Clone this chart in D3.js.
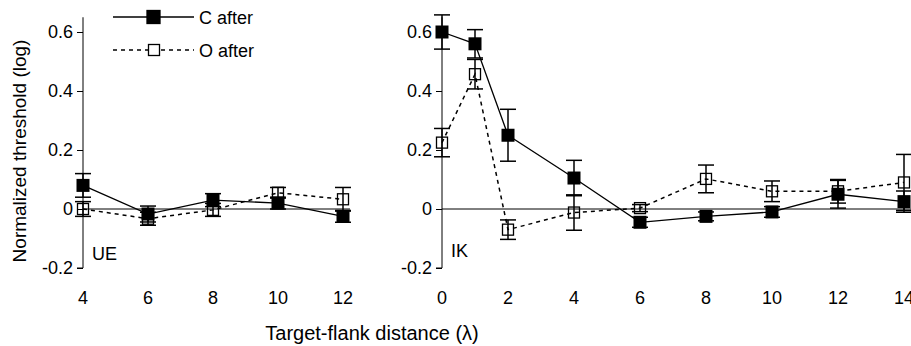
<!DOCTYPE html>
<html>
<head>
<meta charset="utf-8">
<script src="https://cdn.jsdelivr.net/npm/d3@7"></script>
<style>
    body { margin: 0; background: #fff; }
    text { font-family: "Liberation Sans", Arial, sans-serif; }
</style>
</head>
<body>
<script>
// Data (threshold in log units, error = half bar)
var ueX = [4, 6, 8, 10, 12];
var ueC = [0.08, -0.017, 0.03, 0.02, -0.025];
var ueCErr = [0.04, 0.027, 0.022, 0.02, 0.02];
var ueO = [0, -0.033, -0.003, 0.055, 0.033];
var ueOErr = [0.025, 0.022, 0.022, 0.018, 0.04];

var ikX = [0, 1, 2, 4, 6, 8, 10, 12, 14];
var ikC = [0.6, 0.56, 0.25, 0.105, -0.045, -0.025, -0.01, 0.05, 0.025];
var ikCErr = [0.058, 0.048, 0.088, 0.06, 0.017, 0.015, 0.018, 0.047, 0.036];
var ikO = [0.225, 0.457, -0.07, -0.012, 0.003, 0.102, 0.06, 0.06, 0.09];
var ikOErr = [0.048, 0.05, 0.033, 0.06, 0.012, 0.047, 0.035, 0.04, 0.095];

var yTicks = [-0.2, 0, 0.2, 0.4, 0.6];
var yTickLabels = ["-0.2", "0", "0.2", "0.4", "0.6"];
var ueTicks = [4, 6, 8, 10, 12];
var ikTicks = [0, 2, 4, 6, 8, 10, 12, 14];

var W = 911, H = 346;
var svg = d3.select("body").append("svg")
    .attr("width", W)
    .attr("height", H);

var yScale = d3.scaleLinear().domain([-0.2, 0.6]).range([268, 32]);

function panel(xs, cs, cErr, os, oErr, ticks, xScale, x0, zeroEnd, label) {
    var g = svg.append("g");

    // zero reference line
    g.append("line")
        .attr("x1", x0).attr("x2", zeroEnd)
        .attr("y1", yScale(0)).attr("y2", yScale(0))
        .attr("stroke", "#000").attr("stroke-width", 1);

    // y axis
    var yAxis = d3.axisLeft(yScale).tickValues(yTicks).tickSize(6)
        .tickFormat(function (d, i) { return yTickLabels[i]; });
    var ya = g.append("g")
        .attr("transform", "translate(" + x0 + ",0)")
        .call(yAxis);
    ya.select(".domain")
        .attr("d", "M0," + yScale(0.65) + "V" + yScale(-0.2) + "H-6");
    ya.selectAll("text")
        .attr("font-size", "18px")
        .attr("x", -10)
        .attr("fill", "#000")
        .style("font-family", "Liberation Sans, Arial, sans-serif");

    // x tick labels only
    g.selectAll(".xt")
        .data(ticks)
        .enter()
        .append("text")
        .attr("x", function (d) { return xScale(d); })
        .attr("y", 304)
        .attr("text-anchor", "middle")
        .attr("font-size", "18px")
        .text(function (d) { return d; });

    // lines
    var line = d3.line()
        .x(function (d) { return xScale(d[0]); })
        .y(function (d) { return yScale(d[1]); });
    g.append("path")
        .datum(xs.map(function (x, i) { return [x, os[i]]; }))
        .attr("d", line)
        .attr("fill", "none")
        .attr("stroke", "#000")
        .attr("stroke-width", 1.5)
        .attr("stroke-dasharray", "4,4");
    g.append("path")
        .datum(xs.map(function (x, i) { return [x, cs[i]]; }))
        .attr("d", line)
        .attr("fill", "none")
        .attr("stroke", "#000")
        .attr("stroke-width", 1.3);

    // error bars
    function errBars(vals, errs) {
        var eb = g.append("g");
        xs.forEach(function (x, i) {
            var cx = xScale(x);
            var top = yScale(vals[i] + errs[i]);
            var bot = yScale(vals[i] - errs[i]);
            eb.append("line").attr("x1", cx).attr("x2", cx)
                .attr("y1", top).attr("y2", bot)
                .attr("stroke", "#000").attr("stroke-width", 1.5);
            [top, bot].forEach(function (yy) {
                eb.append("line").attr("x1", cx - 8).attr("x2", cx + 8)
                    .attr("y1", yy).attr("y2", yy)
                    .attr("stroke", "#000").attr("stroke-width", 1.5);
            });
        });
    }
    errBars(os, oErr);
    errBars(cs, cErr);

    // open squares
    g.selectAll(".om")
        .data(xs)
        .enter()
        .append("rect")
        .attr("x", function (d) { return xScale(d) - 5.5; })
        .attr("y", function (d, i) { return yScale(os[i]) - 5.5; })
        .attr("width", 11).attr("height", 11)
        .attr("fill", "none")
        .attr("stroke", "#000")
        .attr("stroke-width", 1.3);

    // filled squares
    g.selectAll(".cm")
        .data(xs)
        .enter()
        .append("rect")
        .attr("x", function (d) { return xScale(d) - 6.5; })
        .attr("y", function (d, i) { return yScale(cs[i]) - 6.5; })
        .attr("width", 13).attr("height", 13)
        .attr("fill", "#000");

    g.append("text")
        .attr("x", x0 + 9)
        .attr("y", label.y)
        .attr("font-size", "18px")
        .text(label.t);
}

var xUE = d3.scaleLinear().domain([4, 12]).range([83, 343]);
var xIK = d3.scaleLinear().domain([0, 14]).range([442, 904]);

panel(ueX, ueC, ueCErr, ueO, ueOErr, ueTicks, xUE, 83, 350, {t: "UE", y: 260});
panel(ikX, ikC, ikCErr, ikO, ikOErr, ikTicks, xIK, 442, 911, {t: "IK", y: 257});

// legend
var leg = svg.append("g");
[{name: "C after", y: 17, filled: true}, {name: "O after", y: 50, filled: false}]
    .forEach(function (d) {
        leg.append("line")
            .attr("x1", 113).attr("x2", 194)
            .attr("y1", d.y).attr("y2", d.y)
            .attr("stroke", "#000")
            .attr("stroke-width", d.filled ? 1.3 : 1.5)
            .attr("stroke-dasharray", d.filled ? null : "4,4");
        leg.append("rect")
            .attr("x", d.filled ? 147 : 148.5)
            .attr("y", d.y - (d.filled ? 6.5 : 5.5))
            .attr("width", d.filled ? 13 : 11)
            .attr("height", d.filled ? 13 : 11)
            .attr("fill", d.filled ? "#000" : "#fff")
            .attr("stroke", "#000")
            .attr("stroke-width", 1.3);
        leg.append("text")
            .attr("x", 199)
            .attr("y", d.y + 7)
            .attr("font-size", "18px")
            .text(d.name);
    });

// axis titles
svg.append("text")
    .attr("transform", "translate(26,151) rotate(-90)")
    .attr("text-anchor", "middle")
    .attr("font-size", "19px")
    .text("Normalized threshold (log)");

svg.append("text")
    .attr("x", 372)
    .attr("y", 340)
    .attr("text-anchor", "middle")
    .attr("font-size", "20px")
    .text("Target-flank distance (λ)");
</script>
</body>
</html>
